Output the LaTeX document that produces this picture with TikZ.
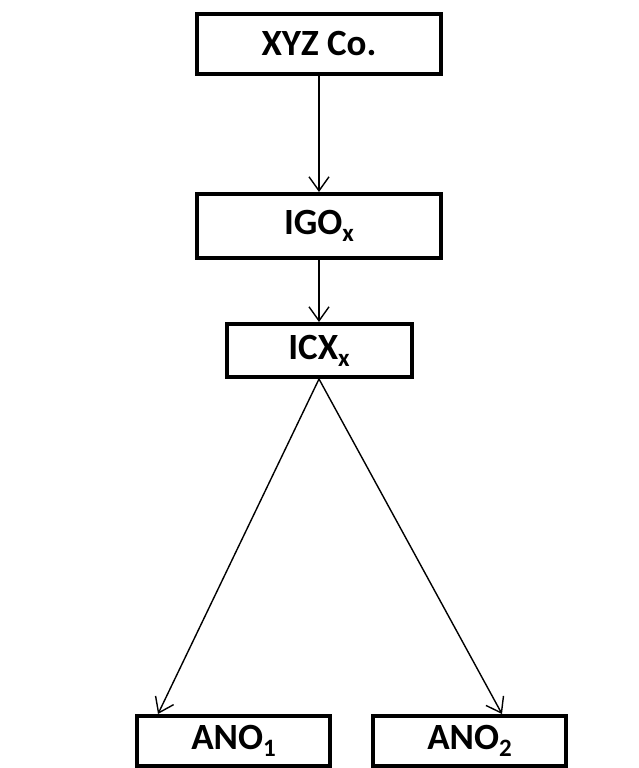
\documentclass[tikz,border=0pt]{standalone}
\usepackage{fontspec}
\setmainfont{Carlito}
\usetikzlibrary{arrows.meta, positioning}
\newcommand{\lowidx}[1]{\raisebox{-7pt}{\fontsize{25}{25}\selectfont #1}}
\tikzset{
  box/.style={draw=black, fill=white, line width=4pt, align=center, inner sep=0pt,
              font=\fontsize{37}{42}\selectfont\bfseries, text=black},
  fl/.style={-{Straight Barb[length=14pt, width=20pt, line width=1.4pt]}, line width=1.4pt, draw=black},
}

\begin{document}
\begin{tikzpicture}[x=1pt, y=-1pt]
  \useasboundingbox (0,0) rectangle (639,768);
  \node[box, minimum width=244pt, minimum height=60pt] (xyz) at (319,44) {XYZ Co.};
  \node[box, minimum width=244pt, minimum height=64pt, below=116pt of xyz] (igo) {IGO\lowidx{x}};
  \node[box, minimum width=185pt, minimum height=53pt, below=62pt of igo] (icx) {ICX\lowidx{x}};
  \node[box, minimum width=193pt, minimum height=50pt] (ano1) at (233.5,741) {ANO\lowidx{1}};
  \node[box, minimum width=193pt, minimum height=50pt] (ano2) at (469.5,741) {ANO\lowidx{2}};
  \draw[fl] (xyz) -- (igo);  \draw[fl] (igo) -- (icx);
  \draw[fl] (icx.south) -- ([xshift=23pt]ano1.north west);
  \draw[fl] (icx.south) -- ([xshift=-66pt]ano2.north east);
\end{tikzpicture}
\end{document}
